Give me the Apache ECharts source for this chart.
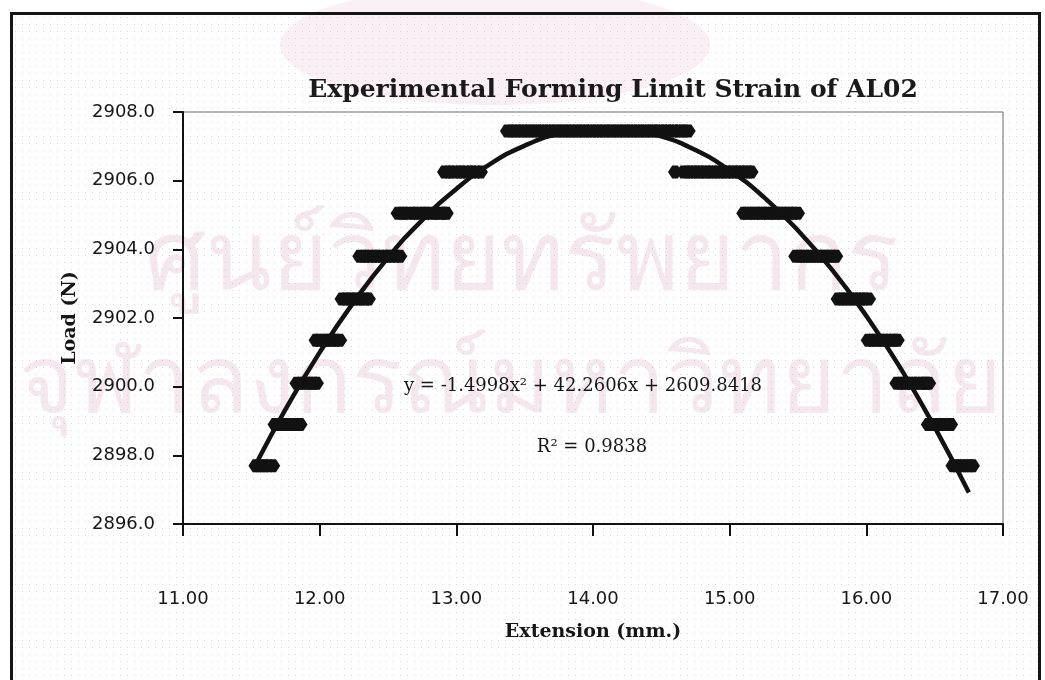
<!DOCTYPE html>
<html>
<head>
<meta charset="utf-8">
<title>Experimental Forming Limit Strain of AL02</title>
<script src="https://cdn.jsdelivr.net/npm/echarts@6/dist/echarts.min.js"></script>
<style>
  html, body { margin: 0; padding: 0; background: #fff; }
  #wrap { position: relative; width: 1045px; height: 680px; overflow: hidden; }
  .paper {
    position: absolute; left: 12px; top: 14px; width: 1026px; height: 700px;
    background-color: #fefefe;
    background-image: radial-gradient(circle, rgba(120,120,120,0.28) 0.6px, transparent 1px);
    background-size: 7px 7px;
  }
  #chart { position: absolute; left: 0; top: 0; width: 1045px; height: 680px; }
  .frame {
    position: absolute; left: 10px; top: 12px; width: 1025px; height: 720px;
    border: 3px solid #151515; pointer-events: none;
  }
</style>
</head>
<body>
<div id="wrap">
  <div class="paper"></div>
  <div id="chart"></div>
  <div class="frame"></div>
</div>
<script>
// load levels (N) at which the readings sit
const loadLevels = [2897.7, 2898.9, 2900.1, 2901.35, 2902.55, 2903.8, 2905.05, 2906.25, 2907.45];

// extension readings (mm) on the rising side, one list per load level
const risingExt = [
  [11.53, 11.55, 11.58, 11.60, 11.63, 11.66],
  [11.67, 11.70, 11.72, 11.75, 11.78, 11.80, 11.83, 11.86],
  [11.83, 11.86, 11.88, 11.91, 11.93, 11.96, 11.98],
  [11.97, 11.99, 12.02, 12.05, 12.07, 12.10, 12.12, 12.15],
  [12.16, 12.19, 12.21, 12.24, 12.26, 12.29, 12.31, 12.34, 12.36],
  [12.29, 12.32, 12.34, 12.37, 12.40, 12.42, 12.45, 12.48, 12.50, 12.53, 12.56, 12.59],
  [12.57, 12.60, 12.62, 12.65, 12.68, 12.70, 12.73, 12.76, 12.78, 12.81, 12.84, 12.86, 12.89, 12.91, 12.93],
  [12.91, 12.94, 12.96, 12.99, 13.02, 13.04, 13.07, 13.10, 13.12, 13.15, 13.18],
  [13.37, 13.40, 13.42, 13.45, 13.47, 13.50, 13.52, 13.55, 13.57, 13.60, 13.62, 13.65, 13.67, 13.70,
   13.72, 13.75, 13.77, 13.80, 13.82, 13.85, 13.87, 13.90, 13.92, 13.95, 13.97, 14.00, 14.02, 14.05,
   14.07, 14.10, 14.12, 14.15, 14.17, 14.20, 14.22, 14.25, 14.27, 14.30, 14.32, 14.35, 14.37, 14.40,
   14.42, 14.45, 14.47, 14.50, 14.52, 14.55, 14.57, 14.60, 14.62, 14.65, 14.67, 14.70]
];

// extension readings (mm) on the falling side, load levels 0..7
const fallingExt = [
  [16.63, 16.66, 16.68, 16.71, 16.73, 16.76, 16.78],
  [16.45, 16.48, 16.50, 16.53, 16.55, 16.58, 16.60, 16.62],
  [16.22, 16.25, 16.27, 16.30, 16.32, 16.35, 16.37, 16.40, 16.42, 16.44, 16.46],
  [16.01, 16.04, 16.06, 16.09, 16.11, 16.14, 16.16, 16.19, 16.21, 16.23],
  [15.79, 15.82, 15.84, 15.87, 15.89, 15.92, 15.94, 15.97, 15.99, 16.02],
  [15.48, 15.51, 15.53, 15.56, 15.58, 15.61, 15.63, 15.66, 15.68, 15.71, 15.73, 15.76, 15.78],
  [15.10, 15.12, 15.15, 15.17, 15.20, 15.22, 15.25, 15.27, 15.30, 15.32, 15.35, 15.37, 15.40, 15.42,
   15.45, 15.47, 15.50],
  [14.60, 14.66, 14.69, 14.71, 14.74, 14.76, 14.79, 14.81, 14.84, 14.86, 14.89, 14.91, 14.94, 14.96,
   14.99, 15.01, 15.04, 15.06, 15.09, 15.11, 15.14, 15.16]
];

// polynomial trend line
const trendExt  = [11.55, 11.75, 12.00, 12.25, 12.50, 12.75, 13.00, 13.25, 13.50, 13.75, 14.00,
                   14.25, 14.50, 14.75, 15.00, 15.25, 15.50, 15.75, 16.00, 16.25, 16.50, 16.75];
const trendLoad = [2897.87, 2899.34, 2901.00, 2902.47, 2903.76, 2904.85, 2905.76, 2906.49, 2907.02,
                   2907.37, 2907.53, 2907.50, 2907.29, 2906.89, 2906.30, 2905.52, 2904.55, 2903.40,
                   2902.06, 2900.54, 2898.82, 2896.92];

const equationText = 'y = -1.4998x² + 42.2606x + 2609.8418';
const r2Text = 'R² = 0.9838';

const xMin = 11, xMax = 17, xStep = 1;
const yMin = 2896, yMax = 2908, yStep = 2;

const points = [];
risingExt.forEach((xs, i) => xs.forEach(x => points.push([x, loadLevels[i]])));
fallingExt.forEach((xs, i) => xs.forEach(x => points.push([x, loadLevels[i]])));
const trend = trendExt.map((x, i) => [x, trendLoad[i]]);

const chart = echarts.init(document.getElementById('chart'), null, { renderer: 'canvas' });

const labelFont = { color: '#161616', fontSize: 18, fontFamily: '"DejaVu Sans", sans-serif' };
const nameFont = { color: '#161616', fontSize: 19, fontWeight: 'bold', fontFamily: '"DejaVu Serif", serif' };

// the scanned diamonds look stretched sideways, so a flat-topped diamond is used
const markerPath = 'path://M0,7 L6,0 L14,0 L20,7 L14,14 L6,14 Z';

const option = {
  animation: false,
  backgroundColor: 'transparent',
  title: {
    text: 'Experimental Forming Limit Strain of AL02',
    left: 608,
    top: 73,
    textAlign: 'center',
    textStyle: { color: '#1a1a1a', fontSize: 25, fontWeight: 'bold', fontFamily: '"DejaVu Serif", serif' }
  },
  grid: {
    left: 183, right: 42, top: 112, bottom: 156,
    show: true, borderColor: '#6a6a6a', borderWidth: 1, backgroundColor: 'transparent'
  },
  xAxis: {
    type: 'value',
    min: xMin, max: xMax, interval: xStep,
    name: 'Extension (mm.)',
    nameLocation: 'middle',
    nameGap: 99,
    nameTextStyle: nameFont,
    axisLine: { lineStyle: { color: '#111', width: 2 } },
    axisTick: { show: true, inside: false, length: 12, lineStyle: { color: '#111', width: 2 } },
    axisLabel: Object.assign({ margin: 66, formatter: v => v.toFixed(2) }, labelFont),
    splitLine: { show: false }
  },
  yAxis: {
    type: 'value',
    min: yMin, max: yMax, interval: yStep,
    name: 'Load (N)',
    nameLocation: 'middle',
    nameGap: 103,
    nameRotate: 90,
    nameTextStyle: nameFont,
    axisLine: { show: true, lineStyle: { color: '#111', width: 2 } },
    axisTick: { show: true, inside: false, length: 10, lineStyle: { color: '#111', width: 2 } },
    axisLabel: Object.assign({ margin: 28, formatter: v => v.toFixed(1) }, labelFont),
    splitLine: { show: false }
  },
  graphic: [
    // faint watermark of the scanned page
    { type: 'circle', shape: { cx: 0, cy: 0, r: 215 }, x: 495, y: 45, scaleY: 0.28,
      style: { fill: 'rgba(238,185,208,0.22)' }, z: -10, silent: true },
    { type: 'text', x: 522, y: 262, z: -10, silent: true,
      style: { text: 'ศูนย์วิทยทรัพยากร', align: 'center', verticalAlign: 'middle', textAlign: 'center', textVerticalAlign: 'middle',
               fontSize: 96, fontFamily: '"Noto Sans", sans-serif', fill: 'rgba(222,165,195,0.26)' } },
    { type: 'text', x: 510, y: 385, z: -10, silent: true,
      style: { text: 'จุฬาลงกรณ์มหาวิทยาลัย', align: 'center', verticalAlign: 'middle', textAlign: 'center', textVerticalAlign: 'middle',
               fontSize: 94, fontFamily: '"Noto Sans", sans-serif', fill: 'rgba(222,165,195,0.26)' } },
    // trend line label
    { type: 'text', x: 583, y: 386, z: 10,
      style: { text: equationText, align: 'center', verticalAlign: 'middle', textAlign: 'center', textVerticalAlign: 'middle',
               fontSize: 18, fontFamily: '"DejaVu Serif", serif', fill: '#161616' } },
    { type: 'text', x: 592, y: 447, z: 10,
      style: { text: r2Text, align: 'center', verticalAlign: 'middle', textAlign: 'center', textVerticalAlign: 'middle',
               fontSize: 18, fontFamily: '"DejaVu Serif", serif', fill: '#161616' } }
  ],
  series: [
    {
      name: 'Load',
      type: 'scatter',
      data: points,
      symbol: markerPath,
      symbolSize: [14, 13],
      symbolKeepAspect: false,
      itemStyle: { color: '#121212', opacity: 1 },
      z: 3
    },
    {
      name: 'Poly. (Load)',
      type: 'line',
      data: trend,
      smooth: true,
      showSymbol: false,
      lineStyle: { color: '#121212', width: 4.5 },
      z: 4
    }
  ]
};

chart.setOption(option);
</script>
</body>
</html>
